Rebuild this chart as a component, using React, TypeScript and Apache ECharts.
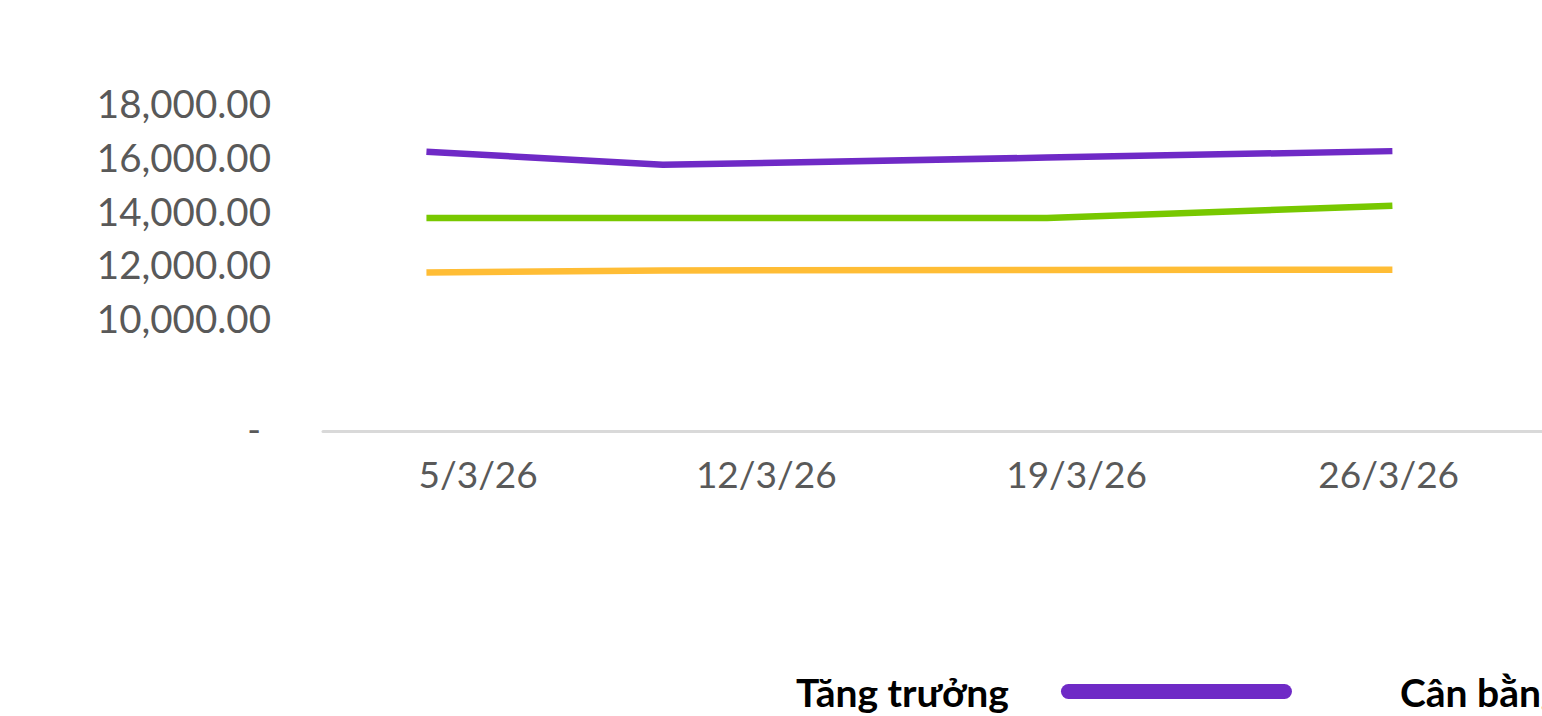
import React, { useEffect, useRef } from "react";
import * as echarts from "echarts";

// ---- data ----
const DATES = ["2026-03-04 08:00", "2026-03-09 16:00", "2026-03-18 08:00", "2026-03-26 03:00"];
const SERIES_NAMES = ["Tăng trưởng", "Cân bằng", "Thận trọng"];
const TANG_TRUONG = [16190, 15700, 15970, 16210];
const CAN_BANG = [13720, 13720, 13720, 14180];
const THAN_TRONG = [11700, 11770, 11790, 11800];
const X_LABEL_DATES = ["2026-03-05 12:00", "2026-03-12 00:00", "2026-03-19 00:00", "2026-03-26 01:00"];
const X_MIN = "2026-03-02 00:00";
const X_MAX = "2026-03-29 12:00";
const Y_BASE = 5800;
const Y_TICKS = [5800, 10000, 12000, 14000, 16000, 18000];
const Y_MAX = 18000;
const COLORS = ["#6F2AC6", "#78C800", "#FFBD35"];

const ts = (s: string) => new Date(s.replace(" ", "T")).getTime();

const fmtDate = (v: number) => {
  const d = new Date(v);
  return `${d.getDate()}/${d.getMonth() + 1}/${String(d.getFullYear()).slice(2)}`;
};

const fmtNum = (v: number) => {
  if (v === Y_BASE) return "{dash|-}";
  return v.toLocaleString("en-US", { minimumFractionDigits: 2, maximumFractionDigits: 2 });
};

const ICON = "path://M7.5,0 L223.5,0 A7.5,7.5 0 0 1 223.5,15 L7.5,15 A7.5,7.5 0 0 1 7.5,0 Z";

export default function App() {
  const ref = useRef<HTMLDivElement>(null);
  useEffect(() => {
    if (!ref.current) return;
    const chart = echarts.init(ref.current, null, { renderer: "svg" });
    const values = [TANG_TRUONG, CAN_BANG, THAN_TRONG];
    const option: any = {
      animation: false,
      backgroundColor: "#ffffff",
      grid: { left: 323, right: 0, top: 103, bottom: 285, containLabel: false },
      xAxis: {
        type: "value",
        min: ts(X_MIN),
        max: ts(X_MAX),
        axisLine: { show: true, onZero: false, lineStyle: { color: "#D9D9D9", width: 3 } },
        axisTick: { show: false },
        splitLine: { show: false },
        axisLabel: {
          customValues: X_LABEL_DATES.map(ts),
          formatter: (v: number) => fmtDate(v),
          fontFamily: "Lato",
          fontSize: 37,
          color: "#595959",
          margin: 24,
          hideOverlap: false,
          showMinLabel: true,
          showMaxLabel: true,
        },
      },
      yAxis: {
        type: "value",
        min: Y_BASE,
        max: Y_MAX,
        axisLine: { show: false },
        axisTick: { show: false },
        splitLine: { show: false },
        axisLabel: {
          customValues: Y_TICKS,
          formatter: (v: number) => fmtNum(v),
          fontFamily: "Lato",
          fontSize: 38.5,
          color: "#595959",
          margin: 52,
          rich: { dash: { fontFamily: "Lato", fontSize: 37, color: "#595959", padding: [0, 10, 6, 0] } },
        },
      },
      legend: {
        left: 791,
        top: 667,
        width: 2000,
        orient: "horizontal",
        align: "right",
        itemWidth: 231,
        itemHeight: 15,
        itemGap: 108,
        textStyle: {
          fontFamily: "Lato",
          fontWeight: "bold",
          fontSize: 39,
          color: "#000000",
          padding: [0, 47, 28, 0],
        },
        data: SERIES_NAMES.map((n) => ({ name: n, icon: ICON })),
      },
      series: SERIES_NAMES.map((name, i) => ({
        name,
        type: "line",
        data: DATES.map((d, j) => [ts(d), values[i][j]]),
        showSymbol: false,
        symbol: "none",
        lineStyle: { color: COLORS[i], width: 6.5 },
        itemStyle: { color: COLORS[i] },
      })),
    };
    chart.setOption(option);
    return () => chart.dispose();
  }, []);
  return (
    <div
      ref={ref}
      style={{ position: "fixed", left: 0, top: 0, width: 1542, height: 716 }}
    />
  );
}
